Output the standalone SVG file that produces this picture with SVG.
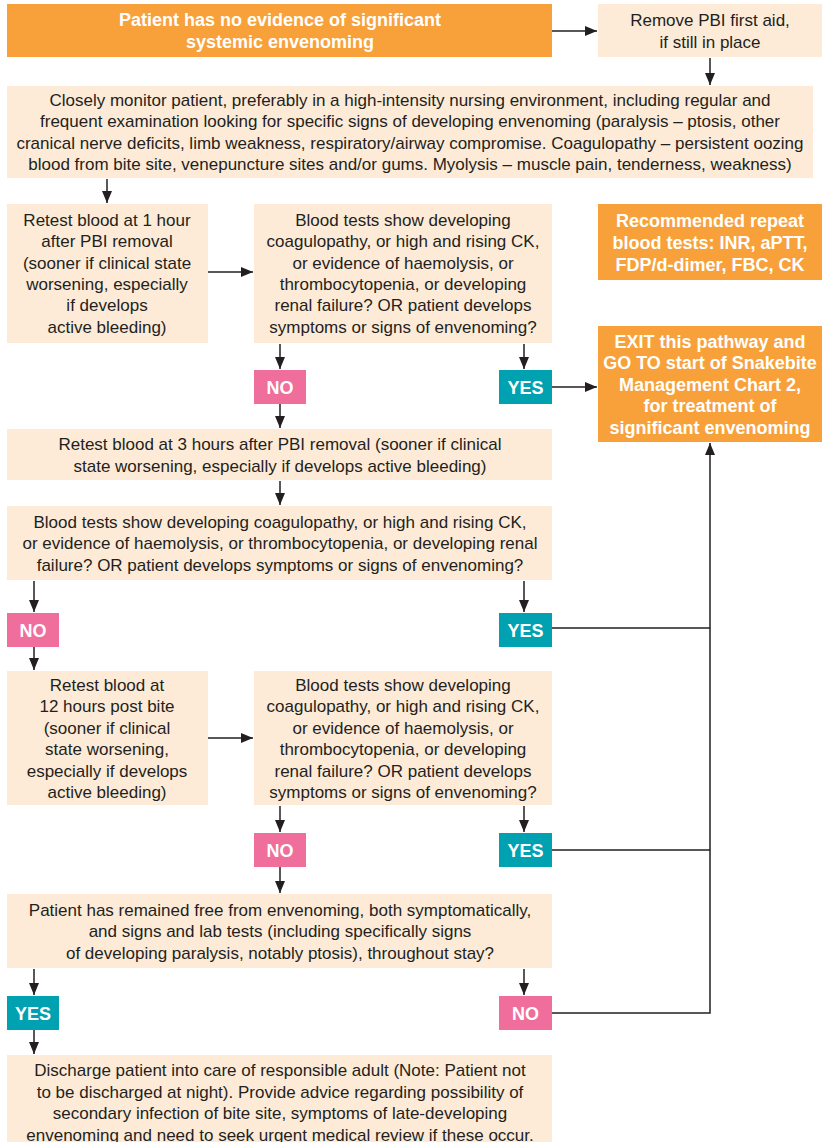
<svg xmlns="http://www.w3.org/2000/svg" width="822" height="1142" viewBox="0 0 822 1142">
  <defs>
    <style>
      .step { fill: #fdebd8; }
      .key { fill: #f8a13b; }
      .no { fill: #f06e9b; }
      .yes { fill: #00a1b1; }
      text { font-family: "Liberation Sans", Arial, sans-serif; font-size: 17px; fill: #231f20; text-anchor: middle; }
      text.b { font-weight: bold; font-size: 18px; fill: #ffffff; }
      .wire { fill: none; stroke: #231f20; stroke-width: 1.5; }
    </style>
    <marker id="head" markerUnits="userSpaceOnUse" markerWidth="12" markerHeight="14" viewBox="0 0 12 14" refX="12" refY="5" orient="auto">
      <path d="M0,0 L12,5 L0,10 Z" fill="#231f20"/>
    </marker>
  </defs>

  <!-- connectors -->
  <g id="connectors" class="wire">
    <line x1="552" y1="31" x2="597" y2="31" marker-end="url(#head)"/>
    <line x1="710" y1="58" x2="710" y2="85" marker-end="url(#head)"/>
    <line x1="107" y1="179" x2="107" y2="203" marker-end="url(#head)"/>
    <line x1="208" y1="272" x2="253" y2="272" marker-end="url(#head)"/>
    <line x1="280" y1="344" x2="280" y2="369" marker-end="url(#head)"/>
    <line x1="524" y1="344" x2="524" y2="369" marker-end="url(#head)"/>
    <line x1="552" y1="387" x2="597" y2="387" marker-end="url(#head)"/>
    <line x1="280" y1="404" x2="280" y2="428" marker-end="url(#head)"/>
    <line x1="280" y1="481" x2="280" y2="505" marker-end="url(#head)"/>
    <line x1="34" y1="581" x2="34" y2="612" marker-end="url(#head)"/>
    <line x1="524" y1="581" x2="524" y2="612" marker-end="url(#head)"/>
    <line x1="34" y1="647" x2="34" y2="670" marker-end="url(#head)"/>
    <line x1="208" y1="738" x2="253" y2="738" marker-end="url(#head)"/>
    <line x1="280" y1="806" x2="280" y2="832" marker-end="url(#head)"/>
    <line x1="524" y1="806" x2="524" y2="832" marker-end="url(#head)"/>
    <line x1="280" y1="867" x2="280" y2="893" marker-end="url(#head)"/>
    <line x1="34" y1="969" x2="34" y2="995" marker-end="url(#head)"/>
    <line x1="524" y1="969" x2="524" y2="995" marker-end="url(#head)"/>
    <line x1="34" y1="1030" x2="34" y2="1054" marker-end="url(#head)"/>
    <!-- YES / NO returns to the exit box -->
    <polyline points="552,628 710,628"/>
    <polyline points="552,850 710,850"/>
    <polyline points="552,1013 710,1013 710,443" marker-end="url(#head)"/>
  </g>

  <g id="start">
    <rect class="key" x="7" y="4" width="545" height="53"/>
    <text class="b" x="280" y="26">Patient has no evidence of significant</text>
    <text class="b" x="280" y="48">systemic envenoming</text>
  </g>

  <g id="remove-pbi">
    <rect class="step" x="598" y="4" width="224" height="53"/>
    <text x="710" y="26">Remove PBI first aid,</text>
    <text x="710" y="48">if still in place</text>
  </g>

  <g id="monitor">
    <rect class="step" x="7" y="86" width="806" height="92"/>
    <text x="410" y="105.5">Closely monitor patient, preferably in a high-intensity nursing environment, including regular and</text>
    <text x="410" y="127">frequent examination looking for specific signs of developing envenoming (paralysis – ptosis, other</text>
    <text x="410" y="148.5">cranical nerve deficits, limb weakness, respiratory/airway compromise. Coagulopathy – persistent oozing</text>
    <text x="410" y="170">blood from bite site, venepuncture sites and/or gums. Myolysis – muscle pain, tenderness, weakness)</text>
  </g>

  <g id="retest-1h">
    <rect class="step" x="7" y="204" width="201" height="139"/>
    <text x="107" y="226">Retest blood at 1 hour</text>
    <text x="107" y="247.3">after PBI removal</text>
    <text x="107" y="268.6">(sooner if clinical state</text>
    <text x="107" y="290">worsening, especially</text>
    <text x="107" y="311.3">if develops</text>
    <text x="107" y="332.6">active bleeding)</text>
  </g>

  <g id="tests-1">
    <rect class="step" x="254" y="204" width="298" height="139"/>
    <text x="403" y="226">Blood tests show developing</text>
    <text x="403" y="247.3">coagulopathy, or high and rising CK,</text>
    <text x="403" y="268.6">or evidence of haemolysis, or</text>
    <text x="403" y="290">thrombocytopenia, or developing</text>
    <text x="403" y="311.3">renal failure? OR patient develops</text>
    <text x="403" y="332.6">symptoms or signs of envenoming?</text>
  </g>

  <g id="repeat-tests">
    <rect class="key" x="598" y="204" width="224" height="76"/>
    <text class="b" x="710" y="226.5">Recommended repeat</text>
    <text class="b" x="710" y="248.5">blood tests: INR, aPTT,</text>
    <text class="b" x="710" y="270.5">FDP/d-dimer, FBC, CK</text>
  </g>

  <g id="exit">
    <rect class="key" x="598" y="326" width="224" height="116"/>
    <text class="b" x="710" y="347.5">EXIT this pathway and</text>
    <text class="b" x="710" y="369">GO TO start of Snakebite</text>
    <text class="b" x="710" y="390.5">Management Chart 2,</text>
    <text class="b" x="710" y="412">for treatment of</text>
    <text class="b" x="710" y="433.5">significant envenoming</text>
  </g>

  <g id="no-1">
    <rect class="no" x="254" y="370" width="52" height="34"/>
    <text class="b" x="280" y="393.5">NO</text>
  </g>
  <g id="yes-1">
    <rect class="yes" x="499" y="370" width="53" height="34"/>
    <text class="b" x="525.5" y="393.5">YES</text>
  </g>

  <g id="retest-3h">
    <rect class="step" x="7" y="429" width="545" height="51"/>
    <text x="280" y="449.5">Retest blood at 3 hours after PBI removal (sooner if clinical</text>
    <text x="280" y="471.5">state worsening, especially if develops active bleeding)</text>
  </g>

  <g id="tests-3">
    <rect class="step" x="7" y="506" width="545" height="74"/>
    <text x="280" y="527.5">Blood tests show developing coagulopathy, or high and rising CK,</text>
    <text x="280" y="549">or evidence of haemolysis, or thrombocytopenia, or developing renal</text>
    <text x="280" y="570.5">failure? OR patient develops symptoms or signs of envenoming?</text>
  </g>

  <g id="no-3">
    <rect class="no" x="7" y="613" width="52" height="34"/>
    <text class="b" x="33" y="636.5">NO</text>
  </g>
  <g id="yes-3">
    <rect class="yes" x="499" y="613" width="53" height="34"/>
    <text class="b" x="525.5" y="636.5">YES</text>
  </g>

  <g id="retest-12h">
    <rect class="step" x="7" y="671" width="201" height="134"/>
    <text x="107" y="690.5">Retest blood at</text>
    <text x="107" y="712">12 hours post bite</text>
    <text x="107" y="733.5">(sooner if clinical</text>
    <text x="107" y="755">state worsening,</text>
    <text x="107" y="776.5">especially if develops</text>
    <text x="107" y="798">active bleeding)</text>
  </g>

  <g id="tests-12">
    <rect class="step" x="254" y="671" width="298" height="134"/>
    <text x="403" y="690.5">Blood tests show developing</text>
    <text x="403" y="712">coagulopathy, or high and rising CK,</text>
    <text x="403" y="733.5">or evidence of haemolysis, or</text>
    <text x="403" y="755">thrombocytopenia, or developing</text>
    <text x="403" y="776.5">renal failure? OR patient develops</text>
    <text x="403" y="798">symptoms or signs of envenoming?</text>
  </g>

  <g id="no-12">
    <rect class="no" x="254" y="833" width="52" height="34"/>
    <text class="b" x="280" y="856.5">NO</text>
  </g>
  <g id="yes-12">
    <rect class="yes" x="499" y="833" width="53" height="34"/>
    <text class="b" x="525.5" y="856.5">YES</text>
  </g>

  <g id="free-check">
    <rect class="step" x="7" y="894" width="545" height="74"/>
    <text x="280" y="915.5">Patient has remained free from envenoming, both symptomatically,</text>
    <text x="280" y="937">and signs and lab tests (including specifically signs</text>
    <text x="280" y="958.5">of developing paralysis, notably ptosis), throughout stay?</text>
  </g>

  <g id="yes-free">
    <rect class="yes" x="7" y="996" width="52" height="34"/>
    <text class="b" x="33" y="1019.5">YES</text>
  </g>
  <g id="no-free">
    <rect class="no" x="499" y="996" width="53" height="34"/>
    <text class="b" x="525.5" y="1019.5">NO</text>
  </g>

  <g id="discharge">
    <rect class="step" x="7" y="1055" width="545" height="95"/>
    <text x="280" y="1076">Discharge patient into care of responsible adult (Note: Patient not</text>
    <text x="280" y="1097.5">to be discharged at night). Provide advice regarding possibility of</text>
    <text x="280" y="1119">secondary infection of bite site, symptoms of late-developing</text>
    <text x="280" y="1140.5">envenoming and need to seek urgent medical review if these occur.</text>
  </g>
</svg>
